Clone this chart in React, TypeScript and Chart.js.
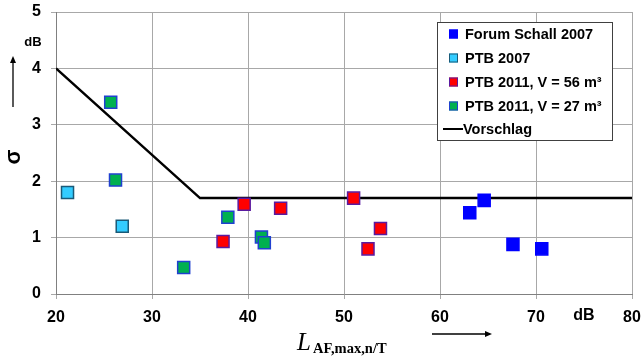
import React, { useEffect, useRef } from "react";
import { Chart, registerables } from "chart.js";

Chart.register(...registerables);

const forumX = [63.1, 64.6, 67.6, 70.6];
const forumY = [1.44, 1.66, 0.88, 0.8];
const ptb2007X = [21.2, 26.9];
const ptb2007Y = [1.8, 1.2];
const ptb56X = [37.4, 39.6, 43.4, 51.0, 52.5, 53.8];
const ptb56Y = [0.93, 1.59, 1.52, 1.7, 0.8, 1.16];
const ptb27X = [25.7, 26.2, 33.3, 37.9, 41.4, 41.7];
const ptb27Y = [3.4, 2.02, 0.47, 1.36, 1.01, 0.91];
const vorschlagX = [20, 35, 80];
const vorschlagY = [4, 1.7, 1.7];

const seriesLabels = [
  "Forum Schall 2007",
  "PTB 2007",
  "PTB 2011, V = 56 m³",
  "PTB 2011, V = 27 m³",
  "Vorschlag",
];
const xTicks = [20, 30, 40, 50, 60, 70, 80];
const yTicks = [0, 1, 2, 3, 4, 5];

const pts = (xs: number[], ys: number[]) => xs.map((x, i) => ({ x, y: ys[i] }));

const SANS = "'Liberation Sans', Arial, sans-serif";
const SERIF = "'Liberation Serif', 'Times New Roman', serif";

const zeroPad = (s: any) => {
  s.paddingLeft = 0;
  s.paddingRight = 0;
  s.paddingTop = 0;
  s.paddingBottom = 0;
};

const extrasPlugin = {
  id: "extras",
  afterDraw(chart: any) {
    const ctx = chart.ctx;
    const xs = chart.scales.x;
    const ys = chart.scales.y;
    ctx.save();
    ctx.fillStyle = "#000";
    ctx.strokeStyle = "#000";

    // y unit
    ctx.font = `bold 13px ${SANS}`;
    ctx.textAlign = "center";
    ctx.textBaseline = "middle";
    ctx.fillText("dB", 33, ys.getPixelForValue(4.46));

    // y arrow
    ctx.lineWidth = 1.3;
    ctx.beginPath();
    ctx.moveTo(13, 107);
    ctx.lineTo(13, 61);
    ctx.stroke();
    ctx.beginPath();
    ctx.moveTo(13, 56);
    ctx.lineTo(10, 63);
    ctx.lineTo(16, 63);
    ctx.closePath();
    ctx.fill();

    // sigma
    ctx.save();
    ctx.translate(14, 157);
    ctx.rotate(-Math.PI / 2);
    ctx.font = `bold 22px ${SANS}`;
    ctx.textAlign = "center";
    ctx.textBaseline = "middle";
    ctx.fillText("σ", 0, 0);
    ctx.restore();

    // x unit
    ctx.font = `bold 16px ${SANS}`;
    ctx.textAlign = "center";
    ctx.textBaseline = "middle";
    ctx.fillText("dB", xs.getPixelForValue(75), 316);

    // x title
    ctx.textAlign = "left";
    ctx.textBaseline = "alphabetic";
    ctx.font = `italic 25px ${SERIF}`;
    ctx.fillText("L", 297, 350);
    ctx.font = `bold 14.5px ${SERIF}`;
    ctx.fillText("AF,max,n/T", 313, 353);

    // x arrow
    ctx.lineWidth = 1.3;
    ctx.beginPath();
    ctx.moveTo(432, 334);
    ctx.lineTo(487, 334);
    ctx.stroke();
    ctx.beginPath();
    ctx.moveTo(492, 334);
    ctx.lineTo(485, 331);
    ctx.lineTo(485, 337);
    ctx.closePath();
    ctx.fill();

    // legend
    const lx = 437, ly = 22, lw = 175, lh = 118;
    ctx.fillStyle = "#fff";
    ctx.fillRect(lx, ly, lw, lh);
    ctx.strokeStyle = "#404040";
    ctx.lineWidth = 1;
    ctx.strokeRect(lx + 0.5, ly + 0.5, lw, lh);
    const rows = [34, 58, 82, 106, 129];
    chart.data.datasets.forEach((ds: any, i: number) => {
      const y = rows[i];
      if (ds.type === "line") {
        ctx.strokeStyle = "#000";
        ctx.lineWidth = 2;
        ctx.beginPath();
        ctx.moveTo(443, y);
        ctx.lineTo(463, y);
        ctx.stroke();
      } else {
        ctx.fillStyle = ds.backgroundColor;
        ctx.fillRect(449, y - 4.5, 9, 9);
        ctx.strokeStyle = ds.borderColor;
        ctx.lineWidth = 1;
        ctx.strokeRect(449.5, y - 4, 8, 8);
      }
      ctx.fillStyle = "#000";
      ctx.font = `bold 14.5px ${SANS}`;
      ctx.textAlign = "left";
      ctx.textBaseline = "middle";
      ctx.fillText(ds.label, i === 4 ? 463 : 465, y + 1);
    });
    ctx.restore();
  },
};

export default function App() {
  const ref = useRef<HTMLCanvasElement>(null);
  useEffect(() => {
    document.body.style.margin = "0";
    const canvas = ref.current!;
    const scatterCommon = {
      type: "scatter" as const,
      pointStyle: "rect",
      pointRadius: 8.5,
      pointHoverRadius: 8.5,
      pointBorderWidth: 1.5,
      order: 0,
    };
    const chart = new Chart(canvas, {
      type: "scatter",
      data: {
        datasets: [
          {
            ...scatterCommon,
            label: seriesLabels[0],
            data: pts(forumX, forumY),
            backgroundColor: "#0000ff",
            borderColor: "#0000ff",
          },
          {
            ...scatterCommon,
            label: seriesLabels[1],
            data: pts(ptb2007X, ptb2007Y),
            backgroundColor: "#33ccff",
            borderColor: "#1a5a78",
          },
          {
            ...scatterCommon,
            label: seriesLabels[2],
            data: pts(ptb56X, ptb56Y),
            backgroundColor: "#ff0000",
            borderColor: "#5a1aa0",
          },
          {
            ...scatterCommon,
            label: seriesLabels[3],
            data: pts(ptb27X, ptb27Y),
            backgroundColor: "#00b050",
            borderColor: "#2040d0",
          },
          {
            type: "line" as const,
            label: seriesLabels[4],
            data: pts(vorschlagX, vorschlagY),
            borderColor: "#000",
            backgroundColor: "#000",
            borderWidth: 2.5,
            pointRadius: 0,
            showLine: true,
            fill: false,
            tension: 0,
            order: 10,
          } as any,
        ],
      },
      options: {
        responsive: false,
        animation: false,
        devicePixelRatio: 1,
        layout: { padding: { left: 0, top: 12, right: 9, bottom: 0 } },
        plugins: { legend: { display: false }, tooltip: { enabled: false } },
        scales: {
          x: {
            type: "linear",
            min: 20,
            max: 80,
            afterFit: (s: any) => {
              s.height = 64;
              zeroPad(s);
            },
            afterBuildTicks: (s: any) => {
              s.ticks = xTicks.map((v) => ({ value: v }));
            },
            ticks: {
              color: "#000",
              font: { family: SANS, size: 16, weight: "bold" },
              padding: 9,
              maxRotation: 0,
              callback: (v: any) => String(v),
            },
            grid: { color: "#a8a8a8", lineWidth: 1, tickLength: 5, drawTicks: true },
            border: { color: "#808080", width: 1 },
          },
          y: {
            type: "linear",
            min: 0,
            max: 5,
            afterFit: (s: any) => {
              s.width = 56;
              zeroPad(s);
            },
            afterBuildTicks: (s: any) => {
              s.ticks = yTicks.map((v) => ({ value: v }));
            },
            ticks: {
              color: "#000",
              font: { family: SANS, size: 16, weight: "bold" },
              padding: 10,
              callback: (v: any) => String(v),
            },
            grid: { color: "#a8a8a8", lineWidth: 1, tickLength: 5, drawTicks: true },
            border: { color: "#808080", width: 1 },
          },
        },
      } as any,
      plugins: [extrasPlugin],
    });
    return () => chart.destroy();
  }, []);
  return (
    <div style={{ width: 642, height: 358 }}>
      <canvas ref={ref} width={642} height={358} style={{ width: 642, height: 358, display: "block" }} />
    </div>
  );
}
